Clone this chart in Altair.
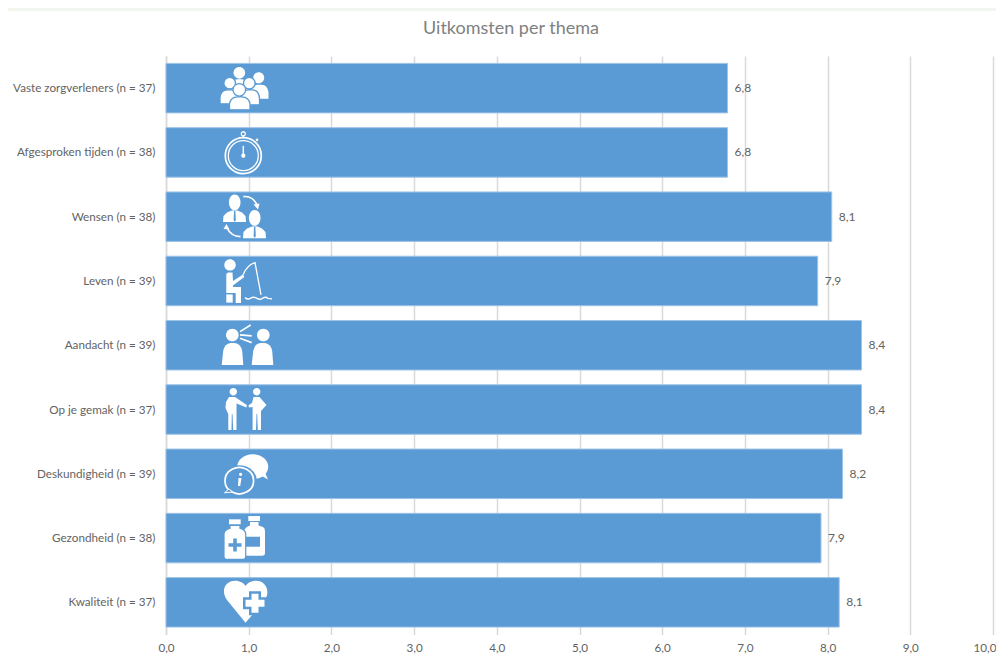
import altair as alt
import pandas as pd

categories = ["Vaste zorgverleners (n = 37)", "Afgesproken tijden (n = 38)", "Wensen (n = 38)",
              "Leven (n = 39)", "Aandacht (n = 39)", "Op je gemak (n = 37)",
              "Deskundigheid (n = 39)", "Gezondheid (n = 38)", "Kwaliteit (n = 37)"]
values = [6.79, 6.79, 8.05, 7.88, 8.41, 8.41, 8.18, 7.92, 8.14]
value_labels = ["6,8", "6,8", "8,1", "7,9", "8,4", "8,4", "8,2", "7,9", "8,1"]
x_ticks = [0, 1, 2, 3, 4, 5, 6, 7, 8, 9, 10]
chart_title = ["Uitkomsten per thema"]

BLUE = "#5b9bd5"
WHITE = "#ffffff"
TEXT = "#636363"
GRID = "#d9d9d9"
FONT = "Lato"
CX, S = 244.0, 30.0
ROW_Y = [88.3 + 64.25 * i for i in range(9)]

icon_rows = []


def fmt(x, y, cy):
    return f"{(x - CX) / S:.4f} {(y - cy) / S:.4f}"


def add(i, cmds, fill=WHITE, stroke="transparent", sw=0.0):
    """cmds: list of (letter, coords...) in picture pixels"""
    cy = ROW_Y[i]
    out = []
    for c in cmds:
        if c[0] == "Z":
            out.append("Z")
        elif c[0] == "A":
            _, rx, ry, large, sweep, x, y = c
            out.append(f"A {rx / S:.4f} {ry / S:.4f} 0 {large} {sweep} {fmt(x, y, cy)}")
        else:
            pts = c[1:]
            out.append(c[0] + " " + " ".join(fmt(pts[k], pts[k + 1], cy) for k in range(0, len(pts), 2)))
    icon_rows.append({"cat": categories[i], "d": " ".join(out), "fill": fill, "stroke": stroke, "sw": sw})


def ell(i, x, y, rx, ry=None, **kw):
    ry = ry or rx
    add(i, [("M", x - rx, y), ("A", rx, ry, 1, 0, x + rx, y), ("A", rx, ry, 1, 0, x - rx, y), ("Z",)], **kw)


def poly(i, pts, **kw):
    add(i, [("M", *pts[0])] + [("L", *p) for p in pts[1:]] + [("Z",)], **kw)


def line(i, pts, sw=1.3, color=WHITE):
    add(i, [("M", *pts[0])] + [("L", *p) for p in pts[1:]], fill="transparent", stroke=color, sw=sw)


def body(i, x0, x1, top, bottom, **kw):
    m = (x0 + x1) / 2
    h = (bottom - top) * 0.55
    add(i, [("M", x0, bottom), ("L", x0, top + h), ("Q", x0 + 1, top, m - 2, top), ("L", m + 2, top),
            ("Q", x1 - 1, top, x1, top + h), ("L", x1, bottom), ("Z",)], **kw)


# people
sep = dict(stroke=BLUE, sw=1.3)
ell(0, 239.3, 73, 5.8)
body(0, 231, 248, 79.5, 92)
ell(0, 258.7, 78, 5.5)
body(0, 251, 268.5, 85, 99)
ell(0, 229.7, 83.3, 5.8, **sep)
body(0, 220, 238.5, 90, 104, **sep)
body(0, 241, 259.5, 90, 105, **sep)
ell(0, 249.3, 83.3, 5.8, **sep)
body(0, 229.5, 250, 97, 110, **sep)
ell(0, 239.3, 90, 6.3, **sep)

# stopwatch
ell(1, 243.3, 155.8, 18, fill="transparent", stroke=WHITE, sw=1.7)
ell(1, 243.3, 155.8, 15, fill="transparent", stroke=WHITE, sw=1.3)
ell(1, 243.3, 134, 2, fill="transparent", stroke=WHITE, sw=1.3)
line(1, [(243.3, 136), (243.3, 138)], 1.6)
ell(1, 257, 140, 1.3)
line(1, [(243.3, 146), (243.3, 155)], 1.5)
ell(1, 243.3, 155.8, 2.1)

# two people with arrows
tie = dict(fill=BLUE)
ell(2, 234.7, 202.5, 5.8, 7.8)
poly(2, [(223, 222), (223.5, 216), (227, 212.5), (232, 210.5), (237.5, 210.5), (242, 212.5), (245.5, 216), (246, 222)])
poly(2, [(234, 211), (235.4, 211), (235.8, 220), (234.7, 222), (233.6, 220)], **tie)
ell(2, 254.7, 218, 5.8, 7.8)
poly(2, [(243, 238.4), (243.5, 232), (247, 228.5), (252, 226.5), (257.5, 226.5), (262, 228.5), (265.5, 232), (266, 238.4)])
poly(2, [(254, 227), (255.4, 227), (255.8, 236), (254.7, 238), (253.6, 236)], **tie)
add(2, [("M", 243.3, 196.7), ("Q", 253, 196, 257, 205)], fill="transparent", stroke=WHITE, sw=1.6)
poly(2, [(253.5, 204.5), (259.5, 203.5), (258, 209.5)])
add(2, [("M", 240.5, 236.7), ("Q", 231, 236.5, 227, 228)], fill="transparent", stroke=WHITE, sw=1.6)
poly(2, [(223.5, 229), (229.5, 229.5), (226.5, 224)])

# fishing
ell(3, 230, 265, 5.7)
poly(3, [(226.3, 274), (228, 272.5), (232.5, 272.5), (233, 281), (243, 274.5), (244.3, 277), (233, 285.5),
         (233, 287), (241, 287), (241, 303), (235.7, 303), (235.7, 293), (226.3, 293)])
poly(3, [(226.3, 294.5), (232.7, 294.5), (232.7, 302.7), (226.3, 302.7)])
add(3, [("M", 243, 275), ("Q", 247, 265, 255, 262.7), ("L", 261, 295)], fill="transparent", stroke=WHITE, sw=1.3)
add(3, [("M", 245, 297.5), ("Q", 248, 300.5, 251, 298), ("Q", 254, 296.5, 257, 298.5), ("Q", 260, 300.5, 263, 298),
        ("Q", 266, 296.5, 268, 298.5), ("L", 272, 299)], fill="transparent", stroke=WHITE, sw=1.4)

# talking
ell(4, 232.3, 335, 6.3)
ell(4, 263.3, 335, 6.3)
for x0 in (221.7, 251.7):
    add(4, [("M", x0, 365), ("L", x0 + 1.5, 351), ("Q", x0 + 3, 343.5, x0 + 9, 343), ("L", x0 + 13, 343),
            ("Q", x0 + 19, 343.5, x0 + 20.5, 351), ("L", x0 + 21.6, 365), ("Z",)])
line(4, [(240, 331.7), (250.7, 325)], 1.7)
line(4, [(240, 335), (251.7, 336)], 1.7)
line(4, [(240, 338.3), (251.7, 342.7)], 1.7)

# handshake
ell(5, 233.3, 391.7, 3.7)
ell(5, 256.7, 391.7, 3.7)
poly(5, [(229, 397), (235, 397), (246.8, 405), (246.5, 407.5), (236.5, 403.5), (236.5, 430), (233.2, 430), (232.5, 414),
         (231.8, 414), (231.5, 430), (228.3, 430), (228.3, 414), (225.5, 408), (226, 402)])
poly(5, [(253.5, 397), (259.5, 397), (266.5, 405), (261, 411), (261, 430), (257.8, 430), (257.2, 414), (256.5, 414),
         (256, 430), (252.6, 430), (252.6, 407), (249, 407.5), (248.5, 405.2), (252, 403)])

# info bubbles
ell(6, 252.7, 466.7, 15.5, 12.5)
poly(6, [(260, 475), (268, 479.5), (264, 470)])
ell(6, 239.3, 480.7, 17.5, 15.5, fill=BLUE)
ell(6, 239.3, 480.7, 14.3, 13, fill=BLUE, stroke=WHITE, sw=1.7)
poly(6, [(229, 489), (224.5, 492.8), (232.5, 492)], fill=BLUE, stroke=WHITE, sw=1.0)
poly(6, [(238.5, 478), (241.5, 478), (240.2, 486), (238.0, 486)])
ell(6, 240.6, 474.3, 1.6)

# bottles
add(7, [("M", 248.3, 516), ("L", 260, 516), ("L", 260, 521), ("L", 248.3, 521), ("Z",)])
add(7, [("M", 250, 522), ("L", 258.5, 522), ("L", 258.5, 525.5), ("L", 263, 527), ("Q", 265, 528, 265, 531),
        ("L", 265, 553), ("Q", 265, 555.7, 262, 555.7), ("L", 244, 555.7), ("L", 244, 531), ("Q", 245, 527, 250, 525.5), ("Z",)])
poly(7, [(245.7, 536.7), (260, 536.7), (260, 546.7), (245.7, 546.7)], fill=BLUE)
poly(7, [(229, 519.3), (240.7, 519.3), (240.7, 524.3), (229, 524.3)])
add(7, [("M", 230, 525.3), ("L", 240, 525.3), ("L", 240, 528.3), ("L", 243, 529.5), ("Q", 245.7, 531, 245.7, 534),
        ("L", 245.7, 557), ("Q", 245.7, 559.3, 243, 559.3), ("L", 226.5, 559.3), ("Q", 224, 559.3, 224, 557),
        ("L", 224, 534), ("Q", 224, 531, 227, 529.5), ("L", 230, 528.3), ("Z",)], stroke=BLUE, sw=1.2)
poly(7, [(233.2, 538.5), (236.8, 538.5), (236.8, 543.2), (241.5, 543.2), (241.5, 546.8), (236.8, 546.8), (236.8, 551.5),
         (233.2, 551.5), (233.2, 546.8), (228.5, 546.8), (228.5, 543.2), (233.2, 543.2)], fill=BLUE)

# heart with cross
add(8, [("M", 245.5, 622.7), ("L", 227, 600), ("C", 220, 590, 226, 580.7, 235, 580.7), ("C", 240, 580.7, 244, 583, 245.5, 586),
        ("C", 247.5, 583, 251, 580.7, 256, 580.7), ("C", 265, 580.7, 271, 590, 265, 600), ("Z",)])


def cross(i, x, y, a, b, **kw):
    poly(i, [(x - b, y - a), (x + b, y - a), (x + b, y - b), (x + a, y - b), (x + a, y + b), (x + b, y + b), (x + b, y + a),
             (x - b, y + a), (x - b, y + b), (x - a, y + b), (x - a, y - b), (x - b, y - b)], **kw)


cross(8, 255, 603.3, 12, 6, fill=BLUE)
cross(8, 255, 603.3, 9.5, 3.5)

df = pd.DataFrame({"cat": categories, "value": values, "label": value_labels})
icons = pd.DataFrame(icon_rows)
title_df = pd.DataFrame({"t": chart_title})

y = alt.Y("cat:N", sort=categories, title=None,
          scale=alt.Scale(paddingInner=0.23, paddingOuter=0.115),
          axis=alt.Axis(labelFont=FONT, labelFontSize=11.7, labelColor=TEXT, labelPadding=11, ticks=False,
                        domain=True, domainColor=GRID, domainWidth=1.5, grid=False, labelLimit=300))
x = alt.X("value:Q", title=None, scale=alt.Scale(domain=[0, 10], nice=False),
          axis=alt.Axis(values=x_ticks, labelExpr="replace(format(datum.value,'.1f'),'.',',')",
                        labelFont=FONT, labelFontSize=11.7, labelColor=TEXT, labelPadding=8, ticks=False,
                        domain=False, grid=True, gridColor=GRID, gridWidth=1.5, labelFlush=False, labelOverlap=False,
                        labelAlign={"condition": {"test": "datum.value == 10", "value": "right"}, "value": "center"},
                        labelOffset={"condition": {"test": "datum.value == 10", "value": 3}, "value": 0}))

bars = alt.Chart(df).mark_bar(color=BLUE, stroke="#9dc3e6", strokeWidth=1).encode(x=x, y=y)
text = alt.Chart(df).mark_text(align="left", baseline="middle", dx=7, font=FONT, fontSize=12, color=TEXT).encode(
    x="value:Q", y=alt.Y("cat:N", sort=categories), text="label:N")
glyphs = alt.Chart(icons).mark_point(filled=True, opacity=1, size=3600).encode(
    x=alt.value(CX - 166),
    y=alt.Y("cat:N", sort=categories),
    shape=alt.Shape("d:N", scale=None),
    fill=alt.Fill("fill:N", scale=None),
    stroke=alt.Stroke("stroke:N", scale=None),
    strokeWidth=alt.StrokeWidth("sw:Q", scale=None),
    order=alt.Order("idx:Q"),
).transform_window(idx="row_number()")
strip = alt.Chart(df).mark_rect(color="#f1f7ee").encode(
    x=alt.value(-158), x2=alt.value(830), y=alt.value(-48), y2=alt.value(-45))
title = alt.Chart(title_df).mark_text(font=FONT, fontSize=18, color="#7f7f7f", align="center", baseline="middle").encode(
    x=alt.value(345), y=alt.value(-27), text="t:N")

chart = alt.layer(strip, bars, text, glyphs, title).properties(
    width=827, height=578.5,
    autosize=alt.AutoSizeParams(type="none"),
    padding={"left": 158, "top": 48, "right": 3, "bottom": 22.5},
    background="#ffffff",
).configure_view(stroke=None)

chart.save("out.html", embed_options={"renderer": "svg", "actions": False})
